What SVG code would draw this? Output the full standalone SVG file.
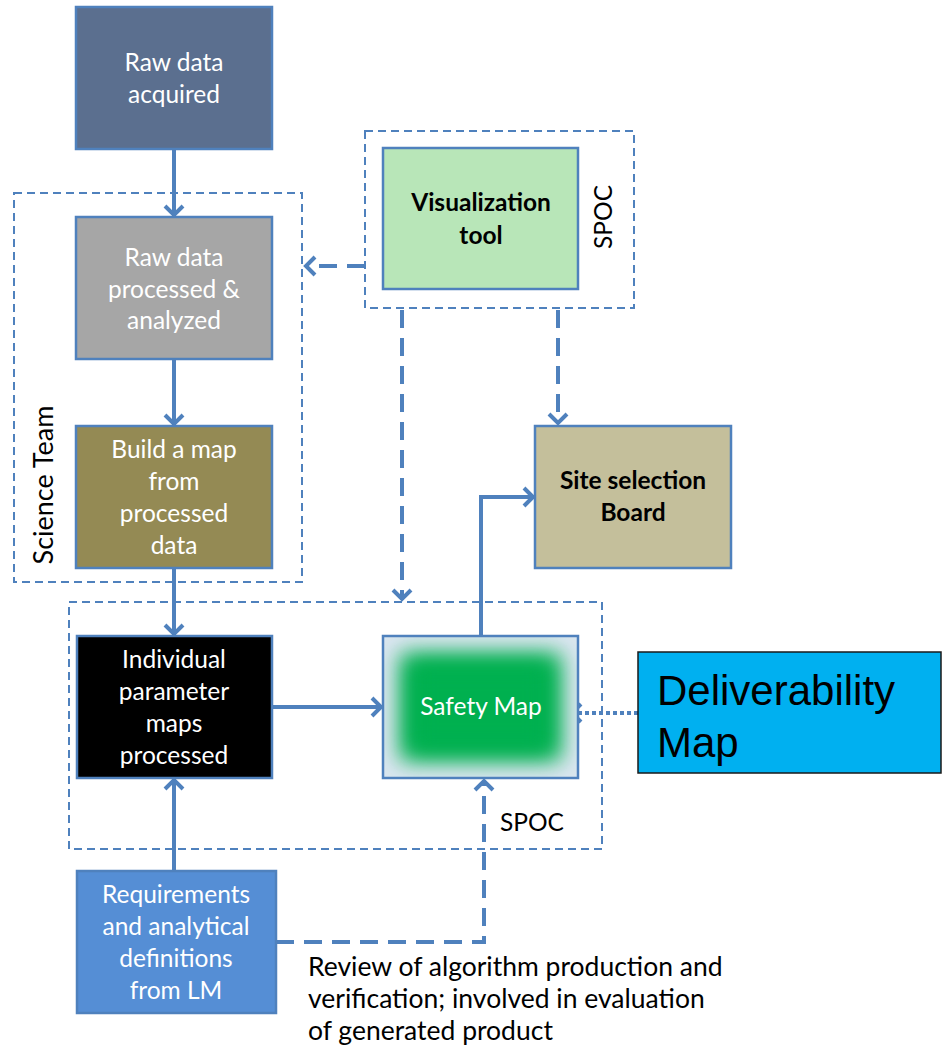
<svg xmlns="http://www.w3.org/2000/svg" width="942" height="1048" viewBox="0 0 942 1048">
<style>
.box{stroke:#4f81bd;stroke-width:2.5}
.grp{fill:none;stroke:#4f81bd;stroke-width:2;stroke-dasharray:8 5}
.con{fill:none;stroke:#4f81bd;stroke-width:4}
.dash{stroke-dasharray:18 10}
.dot{stroke-dasharray:4 3}
.t{font-family:Lato,"Open Sans",sans-serif;font-size:24.5px;text-anchor:middle}
.w{fill:#ffffff}
.k{fill:#000000}
.b{font-weight:bold}
</style>
<defs>
<marker id="ah" markerUnits="userSpaceOnUse" viewBox="-14 -12 16 24" refX="0" refY="0" markerWidth="16" markerHeight="24" orient="auto">
<path d="M-10,-9 L-1,0 L-10,9" fill="none" stroke="#4f81bd" stroke-width="4" stroke-linejoin="miter"/>
</marker>
<filter id="blur" x="-50%" y="-50%" width="200%" height="200%"><feGaussianBlur stdDeviation="11"/></filter>
<clipPath id="smclip"><rect x="383" y="636" width="195" height="142"/></clipPath>
</defs>

<g id="group-science-team">
<rect class="grp" x="14" y="193" width="288" height="389"/>
<text class="t k" style="font-size:27px" transform="translate(53,485) rotate(-90)">Science Team</text>
</g>
<g id="group-spoc-top">
<rect class="grp" x="365" y="131" width="269" height="177"/>
<text class="t k" transform="translate(612,217) rotate(-90)">SPOC</text>
</g>
<g id="group-spoc-bottom">
<rect class="grp" x="69" y="602" width="533" height="247"/>
<text class="t k" x="532" y="831">SPOC</text>
</g>

<g id="connectors">
<line class="con" x1="174" y1="149" x2="174" y2="216" marker-end="url(#ah)"/>
<line class="con" x1="174" y1="359" x2="174" y2="425" marker-end="url(#ah)"/>
<line class="con" x1="174" y1="568" x2="174" y2="635" marker-end="url(#ah)"/>
<line class="con" x1="174" y1="871" x2="174" y2="779" marker-end="url(#ah)"/>
<line class="con" x1="272" y1="707" x2="382" y2="707" marker-end="url(#ah)"/>
<polyline class="con" points="481,636 481,497 534,497" marker-end="url(#ah)"/>
<line class="con dash" x1="365" y1="266" x2="305" y2="266" marker-end="url(#ah)"/>
<line class="con dash" x1="402" y1="310" x2="402" y2="600" marker-end="url(#ah)"/>
<line class="con dash" x1="558" y1="310" x2="558" y2="424" marker-end="url(#ah)"/>
<line class="con dot" x1="638" y1="713" x2="571" y2="713" marker-end="url(#ah)"/>
<polyline class="con dash" points="276,942 484,942 484,780" marker-end="url(#ah)"/>
</g>

<g id="node-raw-acquired">
<rect class="box" x="76" y="7" width="196" height="142" fill="#5b6f8f"/>
<text class="t w" x="174" y="71">Raw data</text>
<text class="t w" x="174" y="103">acquired</text>
</g>
<g id="node-raw-processed">
<rect class="box" x="76" y="217" width="196" height="142" fill="#a6a6a6"/>
<text class="t w" x="174" y="266">Raw data</text>
<text class="t w" x="174" y="298">processed &amp;</text>
<text class="t w" x="174" y="329">analyzed</text>
</g>
<g id="node-build-map">
<rect class="box" x="76" y="426" width="196" height="142" fill="#948a54"/>
<text class="t w" x="174" y="458">Build a map</text>
<text class="t w" x="174" y="490">from</text>
<text class="t w" x="174" y="522">processed</text>
<text class="t w" x="174" y="554">data</text>
</g>
<g id="node-individual">
<rect class="box" x="77" y="636" width="195" height="142" fill="#000000"/>
<text class="t w" x="174" y="668">Individual</text>
<text class="t w" x="174" y="700">parameter</text>
<text class="t w" x="174" y="732">maps</text>
<text class="t w" x="174" y="764">processed</text>
</g>
<g id="node-requirements">
<rect class="box" x="77" y="871" width="199" height="142" fill="#558ed5"/>
<text class="t w" x="176" y="903">Requirements</text>
<text class="t w" x="176" y="935">and analytical</text>
<text class="t w" x="176" y="967">definitions</text>
<text class="t w" x="176" y="999">from LM</text>
</g>
<g id="node-visualization">
<rect class="box" x="383" y="148" width="195" height="141" fill="#b8e6b8"/>
<text class="t k b" x="481" y="211">Visualization</text>
<text class="t k b" x="481" y="244">tool</text>
</g>
<g id="node-site-selection">
<rect class="box" x="535" y="426" width="196" height="142" fill="#c4bf9b"/>
<text class="t k b" x="633" y="489">Site selection</text>
<text class="t k b" x="633" y="521">Board</text>
</g>
<g id="node-safety-map">
<rect x="383" y="636" width="195" height="142" fill="#dbe6f1"/>
<g clip-path="url(#smclip)">
<rect x="400" y="653" width="161" height="108" fill="#00b050" filter="url(#blur)"/>
<rect x="412" y="664" width="137" height="86" fill="#00b050" filter="url(#blur)"/>
</g>
<rect class="box" x="383" y="636" width="195" height="142" fill="none"/>
<text class="t w" x="481" y="715">Safety Map</text>
</g>
<g id="node-deliverability">
<rect x="638" y="652" width="303" height="121" fill="#00b0f0" stroke="#1a1a1a" stroke-width="1.5"/>
<text x="657" y="705" font-family="Liberation Sans,Arial,sans-serif" font-size="42" fill="#000000">Deliverability</text>
<text x="657" y="757" font-family="Liberation Sans,Arial,sans-serif" font-size="42" fill="#000000">Map</text>
</g>
<g id="label-review">
<text x="308" y="976" font-family="Lato,'Open Sans',sans-serif" font-size="26.5" fill="#000000">Review of algorithm production and</text>
<text x="308" y="1008" font-family="Lato,'Open Sans',sans-serif" font-size="26.5" fill="#000000">verification; involved in evaluation</text>
<text x="308" y="1040" font-family="Lato,'Open Sans',sans-serif" font-size="26.5" fill="#000000">of generated product</text>
</g>
</svg>
